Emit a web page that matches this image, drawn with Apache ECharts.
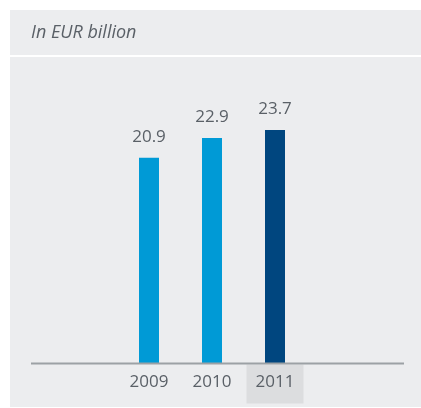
<!DOCTYPE html>
<html>
<head>
<meta charset="utf-8">
<script src="https://cdn.jsdelivr.net/npm/echarts@6/dist/echarts.min.js"></script>
<style>
  html, body { margin: 0; padding: 0; background: #ffffff; }
  #chart { width: 421px; height: 408px; }
</style>
</head>
<body>
<div id="chart"></div>
<script>
// Revenue by year, in EUR billion
const years = ['2009', '2010', '2011'];
const values = [20.9, 22.9, 23.7];
const barColors = ['#009ad6', '#009ad6', '#00467f'];
const unitLabel = 'In EUR billion';
const highlightYear = '2011';

const textColor = '#5a6067';
const panelColor = '#ecedef';
const font = '"Open Sans", "Noto Sans", sans-serif';

const chart = echarts.init(document.getElementById('chart'), null, { renderer: 'canvas' });

const baseOption = {
  backgroundColor: '#ffffff',
  animation: false,
  title: {
    text: unitLabel,
    left: 31,
    top: 24,
    padding: 0,
    textStyle: {
      fontFamily: font,
      fontStyle: 'italic',
      fontWeight: 'normal',
      fontSize: 18,
      color: textColor
    }
  },
  grid: { left: 117.5, width: 189, top: 68, bottom: 44.5 },
  xAxis: {
    type: 'category',
    data: years,
    z: 10,
    axisLine: { show: false },
    axisTick: { show: false },
    axisLabel: {
      margin: 10,
      fontFamily: font,
      fontSize: 17,
      color: textColor
    }
  },
  yAxis: {
    type: 'value',
    min: 0,
    max: 30,
    show: false,
    splitLine: { show: false }
  },
  series: [{
    type: 'bar',
    barWidth: 20,
    z: 5,
    data: values.map((v, i) => ({ value: v, itemStyle: { color: barColors[i] } })),
    label: {
      show: true,
      position: 'top',
      distance: 12,
      fontFamily: font,
      fontSize: 17,
      color: textColor,
      formatter: p => p.value.toFixed(1)
    }
  }]
};

chart.setOption(baseOption);

// Panels, baseline and the highlight cell under the current year
const base = chart.convertToPixel({ xAxisIndex: 0, yAxisIndex: 0 }, [highlightYear, 0]);
const hx = base[0];
const by = base[1];

chart.setOption({
  graphic: [
    { type: 'rect', z: -20, silent: true,
      shape: { x: 10, y: 10, width: 411, height: 45 },
      style: { fill: panelColor } },
    { type: 'rect', z: -20, silent: true,
      shape: { x: 10, y: 57, width: 411, height: 350 },
      style: { fill: panelColor } },
    { type: 'rect', z: -10, silent: true,
      shape: { x: hx - 28.5, y: by + 1, width: 57, height: 39 },
      style: { fill: '#dcdddf' } },
    { type: 'line', z: 8, silent: true,
      shape: { x1: 31, y1: by, x2: 404, y2: by },
      style: { stroke: '#9ca1a5', lineWidth: 2 } }
  ]
});
</script>
</body>
</html>
